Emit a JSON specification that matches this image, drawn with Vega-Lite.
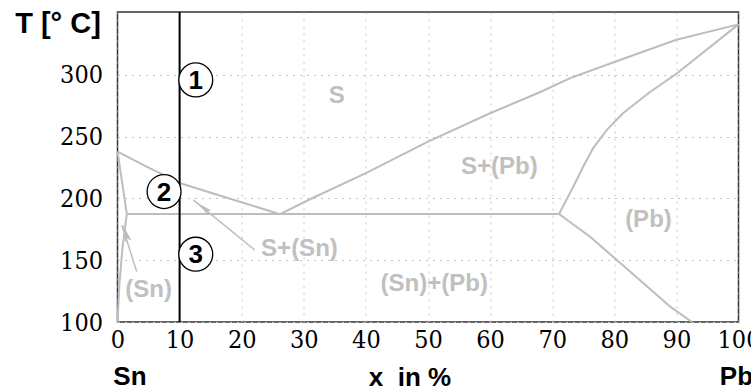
{
  "$schema": "https://vega.github.io/schema/vega-lite/v6.json",
  "autosize": "none",
  "width": 621,
  "height": 310,
  "padding": {"left": 117.5, "top": 12, "right": 12.5, "bottom": 67},
  "background": "white",
  "config": {
    "view": {"stroke": "#333", "strokeWidth": 1.5}
  },
  "datasets": {
    "curves": [
      {"seg": "liqL", "i": 0, "x": 0, "y": 238},
      {"seg": "liqL", "i": 1, "x": 5, "y": 225},
      {"seg": "liqL", "i": 2, "x": 7.5, "y": 219},
      {"seg": "liqL", "i": 3, "x": 10, "y": 212.5},
      {"seg": "liqL", "i": 4, "x": 18, "y": 200},
      {"seg": "liqL", "i": 5, "x": 26.2, "y": 187.3},
      {"seg": "liqR", "i": 0, "x": 26.2, "y": 187.3},
      {"seg": "liqR", "i": 1, "x": 31, "y": 199.4},
      {"seg": "liqR", "i": 2, "x": 40, "y": 220.5},
      {"seg": "liqR", "i": 3, "x": 50, "y": 246},
      {"seg": "liqR", "i": 4, "x": 60, "y": 269},
      {"seg": "liqR", "i": 5, "x": 68, "y": 286},
      {"seg": "liqR", "i": 6, "x": 72.9, "y": 297.5},
      {"seg": "liqR", "i": 7, "x": 80, "y": 310.5},
      {"seg": "liqR", "i": 8, "x": 90, "y": 328.5},
      {"seg": "liqR", "i": 9, "x": 100, "y": 341},
      {"seg": "solL", "i": 0, "x": 0, "y": 238},
      {"seg": "solL", "i": 1, "x": 1.5, "y": 187.5},
      {"seg": "solvL", "i": 0, "x": 1.5, "y": 187.5},
      {"seg": "solvL", "i": 1, "x": 0.8, "y": 160},
      {"seg": "solvL", "i": 2, "x": 0.3, "y": 130},
      {"seg": "solvL", "i": 3, "x": 0, "y": 100},
      {"seg": "eut", "i": 0, "x": 1.5, "y": 187.5},
      {"seg": "eut", "i": 1, "x": 71.1, "y": 187.5},
      {"seg": "solR", "i": 0, "x": 71.1, "y": 187.5},
      {"seg": "solR", "i": 1, "x": 73.4, "y": 209.6},
      {"seg": "solR", "i": 2, "x": 75, "y": 225.9},
      {"seg": "solR", "i": 3, "x": 76.6, "y": 240.8},
      {"seg": "solR", "i": 4, "x": 78.8, "y": 255.6},
      {"seg": "solR", "i": 5, "x": 81.4, "y": 269},
      {"seg": "solR", "i": 6, "x": 85.7, "y": 286},
      {"seg": "solR", "i": 7, "x": 90, "y": 301},
      {"seg": "solR", "i": 8, "x": 100, "y": 341},
      {"seg": "solvR", "i": 0, "x": 71.1, "y": 187.5},
      {"seg": "solvR", "i": 1, "x": 76.1, "y": 169.1},
      {"seg": "solvR", "i": 2, "x": 80.4, "y": 150.2},
      {"seg": "solvR", "i": 3, "x": 84.7, "y": 131.4},
      {"seg": "solvR", "i": 4, "x": 89, "y": 112.4},
      {"seg": "solvR", "i": 5, "x": 92.5, "y": 100}
    ],
    "arrows": [
      {"name": "Sn", "x": 3.1, "y": 140.8, "x2": 0.7, "y2": 178.6},
      {"name": "SSn", "x": 22.1, "y": 158.3, "x2": 12.2, "y2": 198.9}
    ],
    "heads": [
      {"name": "Sn", "x": 1.42, "y": 170.2},
      {"name": "SSn", "x": 14.1, "y": 191.4}
    ],
    "regions": [
      {"label": "S", "x": 35.3, "y": 282.6},
      {"label": "S+(Pb)", "x": 61.5, "y": 225.9},
      {"label": "(Pb)", "x": 85.5, "y": 182.7},
      {"label": "S+(Sn)", "x": 29.3, "y": 159.5},
      {"label": "(Sn)+(Pb)", "x": 51, "y": 130.8},
      {"label": "(Sn)", "x": 5, "y": 125.9}
    ],
    "points": [
      {"n": "1", "x": 12.6, "y": 296},
      {"n": "2", "x": 7.5, "y": 205.6},
      {"n": "3", "x": 12.6, "y": 154.9}
    ],
    "ends": [
      {"label": "Sn", "x": 2, "y": 49}
    ],
    "ends2": [
      {"label": "Pb", "x": 97, "y": 49}
    ]
  },
  "layer": [
    {
      "data": {"name": "curves"},
      "mark": {"type": "line", "color": "#bdbdbd", "strokeWidth": 2},
      "encoding": {
        "x": {"field": "x", "type": "quantitative",
              "scale": {"domain": [0, 100], "nice": false, "zero": false},
              "axis": {"values": [0, 10, 20, 30, 40, 50, 60, 70, 80, 90, 100],
                       "grid": true, "gridColor": "#c4c4c4", "gridDash": [2, 5], "gridWidth": 1,
                       "domain": false, "ticks": false,
                       "labelFont": "DejaVu Serif Condensed, DejaVu Serif", "labelFontSize": 25, "labelColor": "black",
                       "labelPadding": 5, "labelFlush": false, "labelOverlap": false,
                       "title": "x\u00a0\u00a0in %", "titleFont": "Liberation Sans", "titleFontWeight": "bold",
                       "titleColor": "black", "titleFontSize": 26, "titleX": 292, "titleY": 63,
                       "titleBaseline": "alphabetic", "titleAlign": "center"}},
        "y": {"field": "y", "type": "quantitative",
              "scale": {"domain": [100, 351], "nice": false, "zero": false},
              "axis": {"values": [100, 150, 200, 250, 300],
                       "grid": true, "gridColor": "#c4c4c4", "gridDash": [2, 5], "gridWidth": 1,
                       "domain": false, "ticks": false,
                       "labelFont": "DejaVu Serif Condensed, DejaVu Serif", "labelFontSize": 25, "labelColor": "black",
                       "labelPadding": 15, "labelFlush": false, "labelOverlap": false,
                       "title": "T [° C]", "titleAngle": 0, "titleFont": "Liberation Sans", "titleFontWeight": "bold",
                       "titleColor": "black", "titleFontSize": 29,
                       "titleX": -60, "titleY": 11, "titleAlign": "center", "titleBaseline": "middle"}},
        "detail": {"field": "seg"},
        "order": {"field": "i", "type": "quantitative"}
      }
    },
    {
      "data": {"name": "arrows"},
      "mark": {"type": "rule", "color": "#bdbdbd", "strokeWidth": 1.5},
      "encoding": {
        "x": {"field": "x", "type": "quantitative"},
        "y": {"field": "y", "type": "quantitative"},
        "x2": {"field": "x2"},
        "y2": {"field": "y2"}
      }
    },
    {
      "data": {"name": "heads"},
      "transform": [{"filter": "datum.name == 'Sn'"}],
      "mark": {"type": "point", "shape": "M0,-1L0.3,0.6L0,0.3L-0.3,0.6Z", "size": 480, "angle": 343,
               "filled": true, "color": "#bdbdbd", "opacity": 1},
      "encoding": {
        "x": {"field": "x", "type": "quantitative"},
        "y": {"field": "y", "type": "quantitative"}
      }
    },
    {
      "data": {"name": "heads"},
      "transform": [{"filter": "datum.name == 'SSn'"}],
      "mark": {"type": "point", "shape": "M0,-1L0.3,0.6L0,0.3L-0.3,0.6Z", "size": 380, "angle": 309,
               "filled": true, "color": "#bdbdbd", "opacity": 1},
      "encoding": {
        "x": {"field": "x", "type": "quantitative"},
        "y": {"field": "y", "type": "quantitative"}
      }
    },
    {
      "data": {"name": "regions"},
      "mark": {"type": "text", "font": "Liberation Sans", "fontWeight": "bold", "fontSize": 24,
               "color": "#c0c0c0", "align": "center", "baseline": "middle"},
      "encoding": {
        "x": {"field": "x", "type": "quantitative"},
        "y": {"field": "y", "type": "quantitative"},
        "text": {"field": "label"}
      }
    },
    {
      "data": {"values": [{}]},
      "mark": {"type": "rule", "color": "black", "strokeWidth": 2},
      "encoding": {"x": {"datum": 10}}
    },
    {
      "data": {"name": "points"},
      "mark": {"type": "point", "shape": "circle", "size": 1150, "filled": true, "fill": "white",
               "stroke": "black", "strokeWidth": 1.3, "opacity": 1},
      "encoding": {
        "x": {"field": "x", "type": "quantitative"},
        "y": {"field": "y", "type": "quantitative"}
      }
    },
    {
      "data": {"name": "points"},
      "mark": {"type": "text", "font": "Liberation Sans", "fontWeight": "bold", "fontSize": 26,
               "color": "black", "align": "center", "baseline": "middle", "dy": 1},
      "encoding": {
        "x": {"field": "x", "type": "quantitative"},
        "y": {"field": "y", "type": "quantitative"},
        "text": {"field": "n"}
      }
    },
    {
      "data": {"name": "ends"},
      "mark": {"type": "text", "font": "Liberation Sans", "fontWeight": "bold", "fontSize": 26,
               "color": "black", "align": "center", "baseline": "alphabetic", "clip": false},
      "encoding": {
        "x": {"field": "x", "type": "quantitative"},
        "y": {"field": "y", "type": "quantitative"},
        "text": {"field": "label"}
      }
    },
    {
      "data": {"name": "ends2"},
      "mark": {"type": "text", "font": "Liberation Sans", "fontWeight": "bold", "fontSize": 26,
               "color": "black", "align": "left", "baseline": "alphabetic", "clip": false},
      "encoding": {
        "x": {"field": "x", "type": "quantitative"},
        "y": {"field": "y", "type": "quantitative"},
        "text": {"field": "label"}
      }
    }
  ]
}
